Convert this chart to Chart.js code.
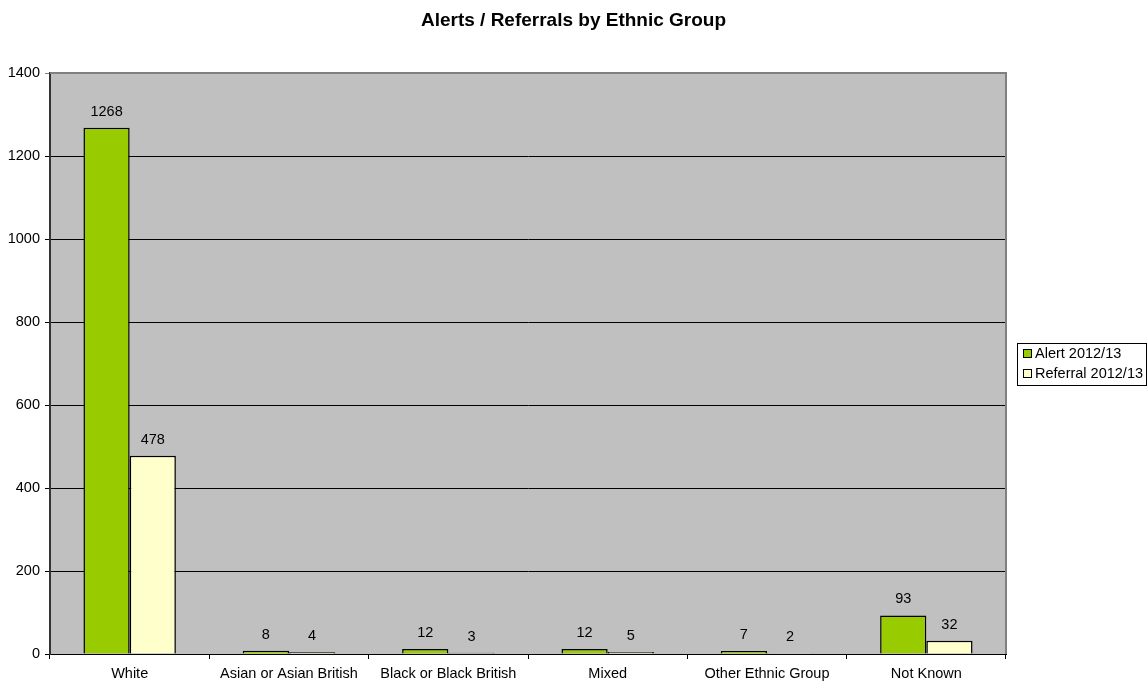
<!DOCTYPE html>
<html lang="en">
<head>
    <meta charset="UTF-8">
    <title>Alerts / Referrals by Ethnic Group</title>
    <script src="https://cdn.jsdelivr.net/npm/chart.js@4"></script>
    <style>
        html, body { margin: 0; padding: 0; background: #fff; }
        #wrap { width: 1147px; height: 681px; }
    </style>
</head>
<body>
    <div id="wrap"><canvas id="ethnicChart"></canvas></div>

    <script>
        // data
        const categories = ['White', 'Asian or Asian British', 'Black or Black British', 'Mixed', 'Other Ethnic Group', 'Not Known'];
        const alerts = [1268, 8, 12, 12, 7, 93];
        const referrals = [478, 4, 3, 5, 2, 32];
        const seriesNames = ['Alert 2012/13', 'Referral 2012/13'];
        const yTicks = [0, 200, 400, 600, 800, 1000, 1200, 1400];
        const chartTitle = 'Alerts / Referrals by Ethnic Group';

        const FONT = "'Liberation Sans', Arial, sans-serif";
        const colours = ['#99CC00', '#FFFFCC'];

        // grey plot area + border, title centred on the whole page
        const plotArea = {
            id: 'plotArea',
            beforeDraw(chart) {
                const a = chart.chartArea, ctx = chart.ctx;
                ctx.save();
                ctx.fillStyle = '#C0C0C0';
                ctx.fillRect(a.left, a.top, a.right - a.left, a.bottom - a.top);
                ctx.restore();
            },
            afterDraw(chart) {
                const a = chart.chartArea, ctx = chart.ctx;
                ctx.save();
                ctx.strokeStyle = '#808080';
                ctx.lineWidth = 2;
                ctx.beginPath();
                ctx.moveTo(a.left, a.top);
                ctx.lineTo(a.right, a.top);
                ctx.lineTo(a.right, a.bottom);
                ctx.stroke();

                ctx.fillStyle = '#000';
                ctx.font = 'bold 19px ' + FONT;
                ctx.textAlign = 'center';
                ctx.textBaseline = 'middle';
                ctx.fillText(chartTitle, chart.width / 2, 21);
                ctx.restore();
            }
        };

        // numbers above each bar
        const valueLabels = {
            id: 'valueLabels',
            afterDatasetsDraw(chart) {
                const ctx = chart.ctx;
                ctx.save();
                ctx.font = '14.5px ' + FONT;
                ctx.fillStyle = '#000';
                ctx.textAlign = 'center';
                ctx.textBaseline = 'middle';
                chart.data.datasets.forEach((ds, i) => {
                    chart.getDatasetMeta(i).data.forEach((bar, j) => {
                        ctx.fillText(ds.data[j], bar.x, bar.y - 16);
                    });
                });
                ctx.restore();
            }
        };

        // boxed legend on the right, like the excel one
        const boxLegend = {
            id: 'boxLegend',
            afterDraw(chart) {
                const ctx = chart.ctx;
                const x = 1017, y = 343, w = 129, h = 42;
                ctx.save();
                ctx.fillStyle = '#fff';
                ctx.fillRect(x, y, w, h);
                ctx.strokeStyle = '#000';
                ctx.lineWidth = 1;
                ctx.strokeRect(x + 0.5, y + 0.5, w, h);
                ctx.font = '14.5px ' + FONT;
                ctx.textBaseline = 'middle';
                chart.data.datasets.forEach((ds, i) => {
                    const cy = y + 11 + i * 20;
                    ctx.fillStyle = ds.backgroundColor;
                    ctx.fillRect(x + 6.5, cy - 4.5, 8, 8);
                    ctx.strokeRect(x + 6.5, cy - 4.5, 8, 8);
                    ctx.fillStyle = '#000';
                    ctx.fillText(ds.label, x + 18, cy);
                });
                ctx.restore();
            }
        };

        function createChart() {
            const ctx = document.getElementById('ethnicChart').getContext('2d');
            new Chart(ctx, {
                type: 'bar',
                data: {
                    labels: categories,
                    datasets: [
                        {
                            label: seriesNames[0],
                            data: alerts,
                            backgroundColor: colours[0],
                            borderColor: '#000',
                            borderWidth: 1.5
                        },
                        {
                            label: seriesNames[1],
                            data: referrals,
                            backgroundColor: colours[1],
                            borderColor: '#000',
                            borderWidth: 1.5
                        }
                    ]
                },
                options: {
                    responsive: true,
                    maintainAspectRatio: false,
                    animation: false,
                    layout: { padding: { left: 0, right: 141, top: 73, bottom: 0 } },
                    datasets: {
                        bar: { categoryPercentage: 0.58, barPercentage: 1.0 }
                    },
                    plugins: {
                        legend: { display: false },
                        tooltip: { enabled: false },
                        title: { display: false }
                    },
                    scales: {
                        x: {
                            grid: {
                                offset: true,
                                drawOnChartArea: false,
                                drawTicks: true,
                                tickLength: 5,
                                color: '#000'
                            },
                            border: { color: '#000', width: 1 },
                            ticks: {
                                color: '#000',
                                font: { family: FONT, size: 14.5 },
                                padding: 6,
                                maxRotation: 0,
                                autoSkip: false
                            },
                            afterFit(scale) { scale.height = 27; }
                        },
                        y: {
                            min: yTicks[0],
                            max: yTicks[yTicks.length - 1],
                            afterBuildTicks(scale) {
                                scale.ticks = yTicks.map(v => ({ value: v }));
                            },
                            grid: {
                                color: ctx => ctx.tick && ctx.tick.value === 1400 ? '#808080' : '#000',
                                tickLength: 5
                            },
                            border: { color: '#333', width: 2 },
                            ticks: {
                                color: '#000',
                                font: { family: FONT, size: 14.5 },
                                padding: 5,
                                callback: v => String(v)
                            },
                            afterFit(scale) { scale.width = 50; }
                        }
                    }
                },
                plugins: [plotArea, valueLabels, boxLegend]
            });
        }

        window.onload = createChart;
    </script>
</body>
</html>
